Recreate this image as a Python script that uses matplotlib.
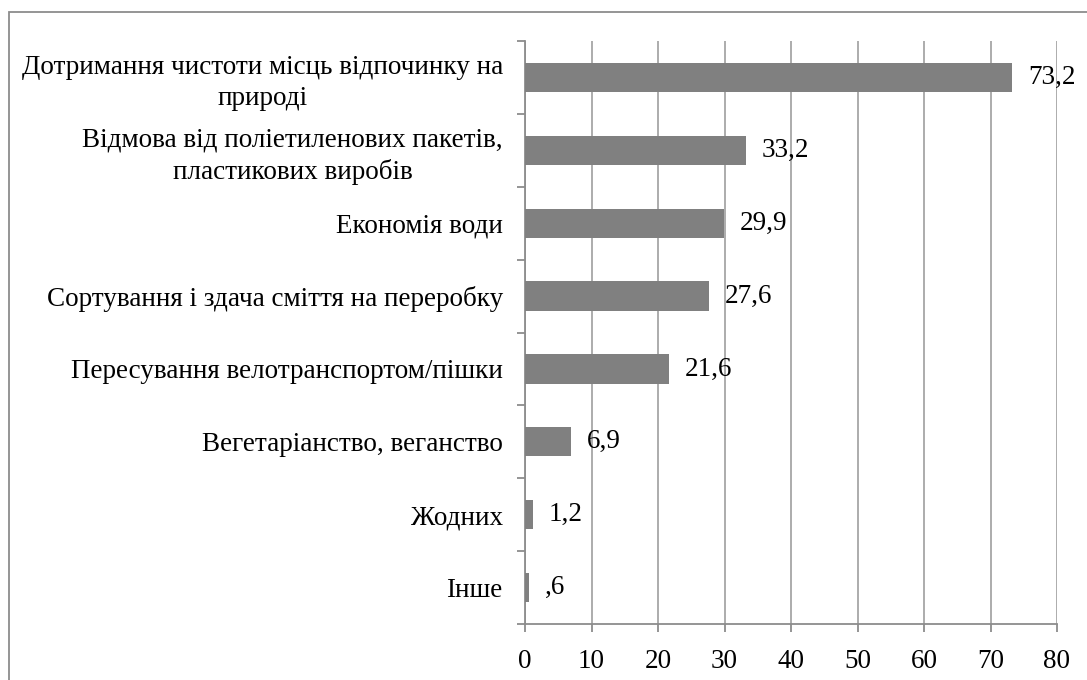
import matplotlib.pyplot as plt
from matplotlib.patches import Rectangle

# categories, top to bottom as in the picture
categories = [
    "Дотримання чистоти місць відпочинку на\nприроді",
    "Відмова від поліетиленових пакетів,\nпластикових виробів",
    "Економія води",
    "Сортування і здача сміття на переробку",
    "Пересування велотранспортом/пішки",
    "Вегетаріанство, веганство",
    "Жодних",
    "Інше",
]
values = [73.2, 33.2, 29.9, 27.6, 21.6, 6.9, 1.2, 0.6]
value_labels = ["73,2", "33,2", "29,9", "27,6", "21,6", "6,9", "1,2", ",6"]
x_ticks = [0, 10, 20, 30, 40, 50, 60, 70, 80]

plt.rcParams['font.family'] = ['Liberation Serif', 'DejaVu Serif']
FS = 19.5
GREY = '#8c8c8c'

fig = plt.figure(figsize=(10.87, 6.8), dpi=100)
ax = fig.add_axes([525 / 1087, 1 - 624 / 680, (1057 - 525) / 1087, (624 - 41) / 680])

# border round the chart (right and bottom edges are cut off in the picture)
fig.patches.append(Rectangle((9 / 1087, -0.05), 1.2, 1 - 12 / 680 + 0.05,
                             transform=fig.transFigure, fill=False,
                             edgecolor=GREY, linewidth=1.3))

n = len(categories)
pos = list(range(n))[::-1]
ax.barh(pos, values, height=0.4, color='#808080', zorder=3)

for p, v, lab in zip(pos, values, value_labels):
    ax.annotate(lab, (v, p), xytext=(11.5, 0), textcoords='offset points',
                va='center', ha='left', fontsize=FS, zorder=4,
                annotation_clip=False)

ax.set_xlim(0, 80)
ax.set_ylim(-0.5, n - 0.5)
ax.set_xticks(x_ticks)
ax.set_xticklabels([str(t) for t in x_ticks], fontsize=FS)
ax.grid(axis='x', color='#a6a6a6', linewidth=1.3, zorder=0)

# category labels, ticks between categories
ax.set_yticks([i - 0.5 for i in range(n + 1)])
ax.set_yticklabels([])
ax.set_yticks(pos, minor=True)
ax.set_yticklabels(categories, minor=True, fontsize=FS,
                   multialignment='center', linespacing=1.3)
ax.tick_params(axis='y', which='minor', length=0, pad=16)
ax.tick_params(axis='y', which='major', length=6, color=GREY, width=1.3)
ax.tick_params(axis='x', length=6, color=GREY, width=1.3, pad=12)

for side in ['top', 'right']:
    ax.spines[side].set_visible(False)
for side in ['left', 'bottom']:
    ax.spines[side].set_color(GREY)
    ax.spines[side].set_linewidth(1.3)

fig.savefig('out.png', dpi=100)
